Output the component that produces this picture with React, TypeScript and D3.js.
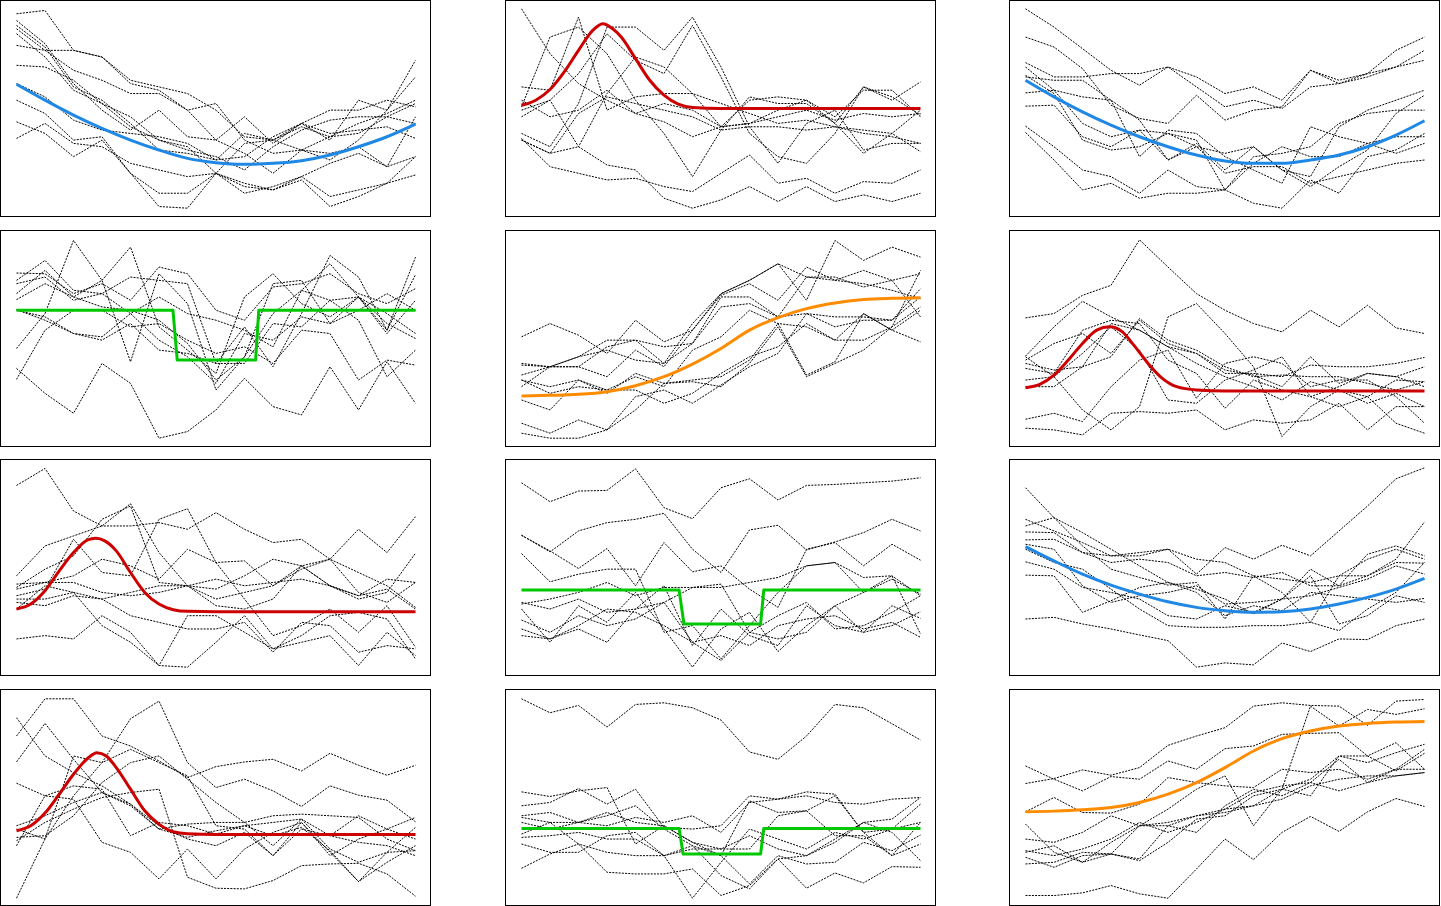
import React from "react";
import * as d3 from "d3";

// ---- Data: each panel has a template curve (t, v) and ~10 noisy series (15 samples each) ----
const P1_tplT = [0,1,2,3,4,5,6,7,8,9,10,11,12,13,14];
const P1_tplV = [39.8,35,30.5,26.5,23,20,17.5,16.2,15.7,16,16.8,18.5,21,24,27.8];
const P1_lines = [
  [61,62,50,48,40,38,32,34,23,19,20,17,23,32,47],
  [59,52,40,32,26,32,24,23,30,22,28,23,35,32,42],
  [57.5,51,39,35,28,20,19,17,25,23,27,24,28,31,35],
  [56.5,50,50,48,41,39,37,32,24,23,20,24,25,30,34],
  [55,48,38,34,30,23,21,13,22,23,28,32,32,35,33],
  [51.5,50,44,41,37,37,32,23,19,13,20,19,21,15,30],
  [45.5,45,41,34,27,23,20,18,14,21,26,29,30,30,28],
  [40,36,29,26,25,24,22,17,18,24,28,25,26,27,23.5],
  [35,31,23,24,13,7,7,13,9,8,12,16,19,15,18],
  [28.5,25,18,23,13,3,2.5,13,7,9,12,6,8,10,12.5],
  [23.5,28,22,21,16,14,12,13,10,8,11,3,6,10,18],
];

const P2_tplT = [0,0.5,1,1.5,2,2.5,2.85,3.2,3.5,4,4.5,5,5.5,6,7,14];
const P2_tplV = [33.5,35,38.2,43.5,50,56,58,56.5,54,47.5,41,36.5,33.8,32.8,32.5,32.5];
const P2_lines = [
  [62.5,49,40,35,31,34,32,27,28,30,32,29,31,30,31],
  [39,38,60,32,36,37,37,34,31,28,29,27,25,24,22],
  [33,54,57,49,35,25,12,26,36,34,34,28,19,25,19.5],
  [30,35,21,37,48,45,37,27,35,36,35,30,38,38,30],
  [25,21,34,57,57,50,60,45,27,16,28,32,20,22,22],
  [23,19,31,36,34,32,30,26,27,27,26,27,26,25,32],
  [32,35,43,55,47,43,57.5,42,25,18,16,25,39,36,30.5],
  [23.5,15,13,11,11.5,9,7.5,13,18.5,10,11.5,7,10.5,10,14],
  [23,19,21,15.5,14,5.5,2.5,5,9,4.5,9,4.5,6.5,4.5,7],
  [35,30,32,38,31,28.5,24,27,28,32,35,28,39,35,40.5],
];

const P3_tplT = [0,1,2,3,4,5,6,7,8,9,10,11,12,13,14];
const P3_tplV = [41,36,31.5,27.5,24,21,18.5,16.7,16,16,17,18.5,21,24.5,28.8];
const P3_lines = [
  [62.5,57,50.5,44,39.5,45,42,37,39,35,44,41,43,50,54],
  [54,51,44.5,33.5,29.5,28,36.5,29,32,33,44,40,43,45,50],
  [46.3,42,42,43,43,45,39,33,35,32.5,39,40,42,45,47],
  [45,38,28,24,26,17,21,19,21,14,12,27,32,35,38],
  [42,41,41,35,29,17,22,14,21,14,9,15,20,31,36.5],
  [37.2,38,36,35,18,26,25,18,14,10,27,24,22,24,24],
  [33.2,33.5,24,21,26,25,23,8,16,21,18,18,22,19,22],
  [27.2,21,14,12,7,14,9,8,18,19,21,28,31,32,32],
  [25.3,17,8,10,5.5,7,7,8,4,2.5,11,7,18,20,25],
  [42.5,37,23,20,21,25,21,13,15,15,10,12,14,16,17],
];

const P4_tplT = [0,5.49,5.64,8.39,8.5,14];
const P4_tplV = [41,41,26,26,41,41];
const P4_lines = [
  [29.5,40,62,50,25.5,52,43,17,27,40,47,55,45,35,57],
  [46,53,45,50,60,36,29,22,45,52,43,39,45,34,44],
  [52.2,52,46,49,44,54,52,41,38,48,49,52,46,43,47.5],
  [50,56,47,46,51,50,49,25,36,24,40,57.5,51,35,51.7],
  [49,51,44,46,40,45,40,38,35,30,47,44,45,40,34],
  [44.2,49,45,42,41,38,31,20,27,49,50,37,41,46,41],
  [41.2,38,34,33,40,32,27,19,34,32,39,37,45,37,32.5],
  [23.5,16,10,25,19,2.5,4.5,11,20.5,12,9.5,24,11,25.5,13],
  [20.2,35,41,41,36,37,32,28,30,25,35,34,20,26,24.5],
  [41,39,34,32,37,29,28,25,25,37,36,44,38,21,29],
];

const P5_tplT = [0,1,2,3,4,5,6,7,8,9,10,11,12,13,14];
const P5_tplV = [15.2,15.4,15.7,16.5,18.3,21,24.8,29.5,35,38.8,41.5,43.2,44.2,44.6,44.8];
const P5_lines = [
  [33,37,33.5,28,38,31.5,35,46,50,55,44,62,56,60,57],
  [25,24,24,21,29,24,35,45.5,49,44,54,50,53,50,52],
  [24.5,24,24,30,32,30,31,45,45,39,51,50,49,47,44.5],
  [21.5,24,27,32,32,25,37,46,50,55,51,51,48,50,39],
  [20,18,20,16,22,19,19.5,18,25,36,21,25,29,36,53],
  [18,24,27,29,26,25,31,42,43,39,40,39,39,38,47.5],
  [14,11,20,17,21,18,29,33,41,37,36,32,40,35,31.5],
  [7,4,8,5,15,17,13,18.5,24,28,40,36,38,38,45],
  [4,2.5,2.5,5,11,19,20,21,26,37,21.5,25.5,40,35,41],
  [20,16,18,17,17,13,16,22,27,30,37,32,32,36,42],
];

const P6_tplT = [0,0.5,1,1.5,2,2.5,2.95,3.4,3.8,4.3,4.8,5.3,6,7,14];
const P6_tplV = [17.7,18.7,21.5,26,31,35,36,34.5,30.5,25,20.5,18,17,16.7,16.7];
const P6_lines = [
  [38.7,40,45.5,48.5,62.2,54,46,41,37,34.5,41,36,42.5,35.7,34],
  [27.2,36,43.7,39,35,30,28,23,21.5,18,27,19,22,21,24],
  [26,31,34,28,38,31,28,22,22,21,24.5,24,24,25,26.8],
  [25,23,24,27,38.5,32,29,24,21,21.5,21,21,19,17,19.5],
  [23.5,22,35,38,37,26,22,11.5,20,17,15,12,15,7,4],
  [18,18,24,37,35,30,25,21,18,14,19.5,17,13,16,12],
  [8.2,10,7.5,18,26,29,14.5,25,27,25,18,20,20,15,7],
  [5.5,5,3.5,10,10.5,10,11,5,8,7,8,13,5,12,12],
  [27,21,11,5,12,39,43,34,24,3,12,17,15,20,19.5],
  [20,21,28,36,29,14,13,20,23,27,15,18,22,21,18],
];

const P7_tplT = [0,0.5,1,1.5,2,2.5,2.78,3.1,3.5,4,4.5,5,5.5,6,7,14];
const P7_tplV = [20,21.5,25.5,31.5,37,40.8,41.3,40.5,37.5,31,25,21.5,19.8,19.3,19.2,19.2];
const P7_lines = [
  [57.2,62.3,49.5,45,45,46,44,49,44,40,41,35,31,27,20.5],
  [30,39,42,45,51.7,37,27,21,20,23,33,27,24,26,20],
  [27.5,28,28,25,24,25,27,26,30,35,33,35,25,22,28],
  [26.5,32,36,47,51,28,27,23,25,27,33,27,24,29,28],
  [24,26,41,31,30,47,50.2,34,23,12,15,20,13,21,8.5],
  [22,21,24,23,18,16,14,14,16,7,16,15,7,9,8],
  [11,12,11,18,13,3,18,18,13,8,10,12,3,13,6],
  [20,27,25,15,10,3,2.5,10,18,8,12,18,19,17,5],
  [26,28,30,35,33,29,38,34,34.5,27,32,35,44,37,47.8],
  [23,23,25,23,25,27,27,29,27,28,29,27,23,25,36.8],
];

const P8_tplT = [0,5.53,5.7,8.39,8.5,14];
const P8_tplV = [25.7,25.7,15.5,15.5,25.7,25.7];
const P8_lines = [
  [58,52.3,55.5,55.7,62.2,50.5,47.2,56.5,59.2,52.8,57.2,57.5,58,58.5,59.5],
  [42.2,37.2,43.5,46,47,48.8,38,31,43.8,45.2,37.8,40.2,43,47,43.5],
  [42.2,37.5,32.2,38.2,27,40,31.2,33,26,20.5,38,40,33,39.5,34.7],
  [36.7,28.2,30.5,32,32,13,15,5,15,25,33,34,25,30,12.5],
  [22,20,23,19,20,27,9,20,12,9,21,15,13,15,19.2],
  [20,10,21,16,25,14,2.5,14,19,7.2,15,21,13,21,17.2],
  [16.7,13,18,15,17,22,10,4.5,13,18,22,14,15,19,24],
  [14,11,14,10,20,22,26.5,27.5,13,11,13,21,25,29,24.5],
  [12,11,15,20,19,15,10,12,9,15,17,18,14,16,11.5],
  [21.5,23,25,28,24,26.5,26.5,26.5,28,29.5,33,34,29.5,30,24],
];

const P9_tplT = [0,1,2,3,4,5,6,7,8,9,10,11,12,13,14];
const P9_tplV = [38.8,34.5,30.5,27.2,24.5,22.2,20.5,19.5,19,19.2,20,21.5,23.5,26,29.2];
const P9_lines = [
  [47,43.5,40,36,36,38,30.5,38.5,35,39.2,36,43.5,51,59.2,62.5],
  [56.5,47.5,39,32,29.5,27.2,28,17,30,25,16,30,30,35,46.2],
  [45,47.5,43,38,33,28,26,23,18.5,23,32,27,36.5,39,36],
  [43.2,43,37,36,37,38,35,34,30,29,28,30,35,38,35],
  [40.8,41,37,34,35,34,30,31,29.5,31,27,27,30,34,33.8],
  [39.5,38,27,22,24,25,27,21.5,22,23,24,26.5,29,33,30.5],
  [34.2,32,26.5,25,23,18,17,21,19,23,30,15.5,18,24,22],
  [30.2,30,19,22.5,26.5,28,25,18,21,19.5,25,24,23,22,23.2],
  [17,17.5,15.5,14,12.2,10.5,2.5,3.8,3.2,9.8,7.2,11,10.8,15,17],
  [38,34,32,26,20,15,14.5,14.5,15,15,16,13.5,20,25,34],
];

const P10_tplT = [0,0.5,1,1.5,2,2.5,2.82,3.15,3.5,4,4.5,5,5.5,6,7,14];
const P10_tplV = [22.5,24,27.8,33.5,39.5,44.3,46,45,41.5,35,28.5,24.5,22.2,21.6,21.4,21.4];
const P10_lines = [
  [56.5,45,40,36,30.5,24,20,18,22,15,25,16,7.2,13,18],
  [51,62.2,62.2,51,48,43.5,38.5,41.8,43.2,44,40.5,45.8,42.2,39.2,42.2],
  [43.2,54.8,44,34,30.5,23,20.5,22.5,24,25,26,17,13,16,16.5],
  [36.8,33,32,19,16,8,17,8,17,22,25,15,20,23,26.5],
  [23,20,45,43,56.2,61.5,43,35.5,38,34.5,29.8,36,33.2,31.7,25.2],
  [20.5,21,27,37,43,45,38,31,25,18,26,21,27,23,20],
  [18,33,36,35,21,25,24,21.5,24,21,23.5,16.5,7.2,16,23.5],
  [2.2,20,33,43,47,43,39,24,23,15,23,21,19,18,15],
  [19.5,25,29,32.5,34,35,8.5,5.2,5,7.5,12,12.5,12.7,9.5,2.8],
  [24,27,31,34,30,23,24.5,25,25,27,27.5,27,26.5,20,16.5],
];

const P11_tplT = [0,5.53,5.67,8.39,8.5,14];
const P11_tplV = [23.2,23.2,15.5,15.5,23.2,23.2];
const P11_lines = [
  [62.2,58,60.2,53.7,60.5,61,59.5,55.8,46.2,44,51,60.5,59.5,54.7,49.8],
  [34.2,32.8,34.5,35.5,18.5,24,19,15,31.5,28,28.5,33,22,15,25],
  [30,31,35.2,30.5,35,23.5,23,24,33,32,34.2,33.5,22,23,30.5],
  [26.5,25,25,27,30,23,18,15,6.5,15,12.5,13,19,16.5,21.2],
  [25,23,25,28,25,24,19,17,21,17,15,20,25,26,32.5],
  [20.5,21,22,20,20,15,17,17,17,27,28.5,21,21,15,18.5],
  [18.5,16,16,21,22,15,18,9,5,14,15,19,25,22,13.5],
  [11.2,15.5,18.5,16,15,15,2.2,13,23,20,17,22,20,23,25],
  [21.5,25,18.5,10,9.5,9.5,11,3,6,14,5.2,9.8,6.8,11.7,11.5],
  [27,28,25,24,26.5,25,27,22,31,32,33,31,30.5,32,32.5],
];

const P12_tplT = [0,1,2,3,4,5,6,7,8,9,10,11,12,13,14];
const P12_tplV = [28.2,28.4,28.8,29.5,31,33.5,37,41.5,46.5,50.2,52.5,54,54.8,55.2,55.4];
const P12_lines = [
  [36.7,38.2,40.8,39.2,41.5,48.2,51,53.5,60,61,60.2,60,54.2,61.5,62],
  [42,38,34.5,38.8,38,43.5,41,47.2,48,51.5,51.8,52,45,40.5,45.8],
  [28.2,32.5,28,27.8,30.5,38.5,37,36,35.5,41,40,41,38,41,41],
  [24.5,16,13,19,24,29,35,39,24,35,60,54,59,57.5,59.2],
  [20,19,22,27,24,25,27,29,30,35,38,45,43,46,48.5],
  [16,18,13,15.5,14,24,22,30,35,33,37,44,37,41,47],
  [14.5,11.5,15,15.5,13.5,19,26,27,33,35,33,45,45,49,41],
  [12.5,13,16,15.5,24,24,27,28,30,32,36,38,39,39,40],
  [3,3,3.8,6,3.5,2.2,11,20,13.8,22,26.8,22.3,28.2,32.2,29.8],
  [16.5,15,17,20,25,22,25,29,34,36,37,34.5,37,39,40],
];

const BLUE = "#1f88e5";
const RED = "#cc0000";
const GREEN = "#00c800";
const ORANGE = "#ff8c00";

const PANELS = [
  { t: P1_tplT, v: P1_tplV, lines: P1_lines, color: BLUE, smooth: true },
  { t: P2_tplT, v: P2_tplV, lines: P2_lines, color: RED, smooth: true },
  { t: P3_tplT, v: P3_tplV, lines: P3_lines, color: BLUE, smooth: true },
  { t: P4_tplT, v: P4_tplV, lines: P4_lines, color: GREEN, smooth: false },
  { t: P5_tplT, v: P5_tplV, lines: P5_lines, color: ORANGE, smooth: true },
  { t: P6_tplT, v: P6_tplV, lines: P6_lines, color: RED, smooth: true },
  { t: P7_tplT, v: P7_tplV, lines: P7_lines, color: RED, smooth: true },
  { t: P8_tplT, v: P8_tplV, lines: P8_lines, color: GREEN, smooth: false },
  { t: P9_tplT, v: P9_tplV, lines: P9_lines, color: BLUE, smooth: true },
  { t: P10_tplT, v: P10_tplV, lines: P10_lines, color: RED, smooth: true },
  { t: P11_tplT, v: P11_tplV, lines: P11_lines, color: GREEN, smooth: false },
  { t: P12_tplT, v: P12_tplV, lines: P12_lines, color: ORANGE, smooth: true },
];

const W = 1441;
const H = 906;
const PW = 431;
const PH = 216;
const COL_X = [0.5, 505.5, 1009.5];
const ROW_Y = [0.5, 230.5, 459.5, 689.5];

function Panel({ p, x0, y0 }: { p: any; x0: number; y0: number }) {
  const xs = d3.scaleLinear().domain([0, 14]).range([16, 415]);
  const ys = d3.scaleLinear().domain([0, 65]).range([PH, 0]);
  const idx = d3.range(15);
  const noisy = d3
    .line<number>()
    .x((_, i) => xs(idx[i]))
    .y((d) => ys(d));
  const tplPts = p.t.map((t: number, i: number) => [t, p.v[i]] as [number, number]);
  const tpl = d3
    .line<[number, number]>()
    .x((d) => xs(d[0]))
    .y((d) => ys(d[1]))
    .curve(p.smooth ? d3.curveMonotoneX : d3.curveLinear);
  return (
    <g transform={`translate(${x0},${y0})`}>
      <rect x={0} y={0} width={PW - 1} height={PH} fill="#fff" stroke="#000" strokeWidth={1} />
      {p.lines.map((ln: number[], i: number) => (
        <path
          key={i}
          d={noisy(ln) || ""}
          fill="none"
          stroke="#000"
          strokeWidth={1}
          strokeDasharray="2,1.2"
        />
      ))}
      <path d={tpl(tplPts) || ""} fill="none" stroke={p.color} strokeWidth={3} strokeLinejoin="round" />
    </g>
  );
}

export default function App() {
  return (
    <svg
      width={W}
      height={H}
      style={{ position: "absolute", left: 0, top: 0, background: "#fff" }}
    >
      {PANELS.map((p, i) => (
        <Panel key={i} p={p} x0={COL_X[i % 3]} y0={ROW_Y[Math.floor(i / 3)]} />
      ))}
    </svg>
  );
}
